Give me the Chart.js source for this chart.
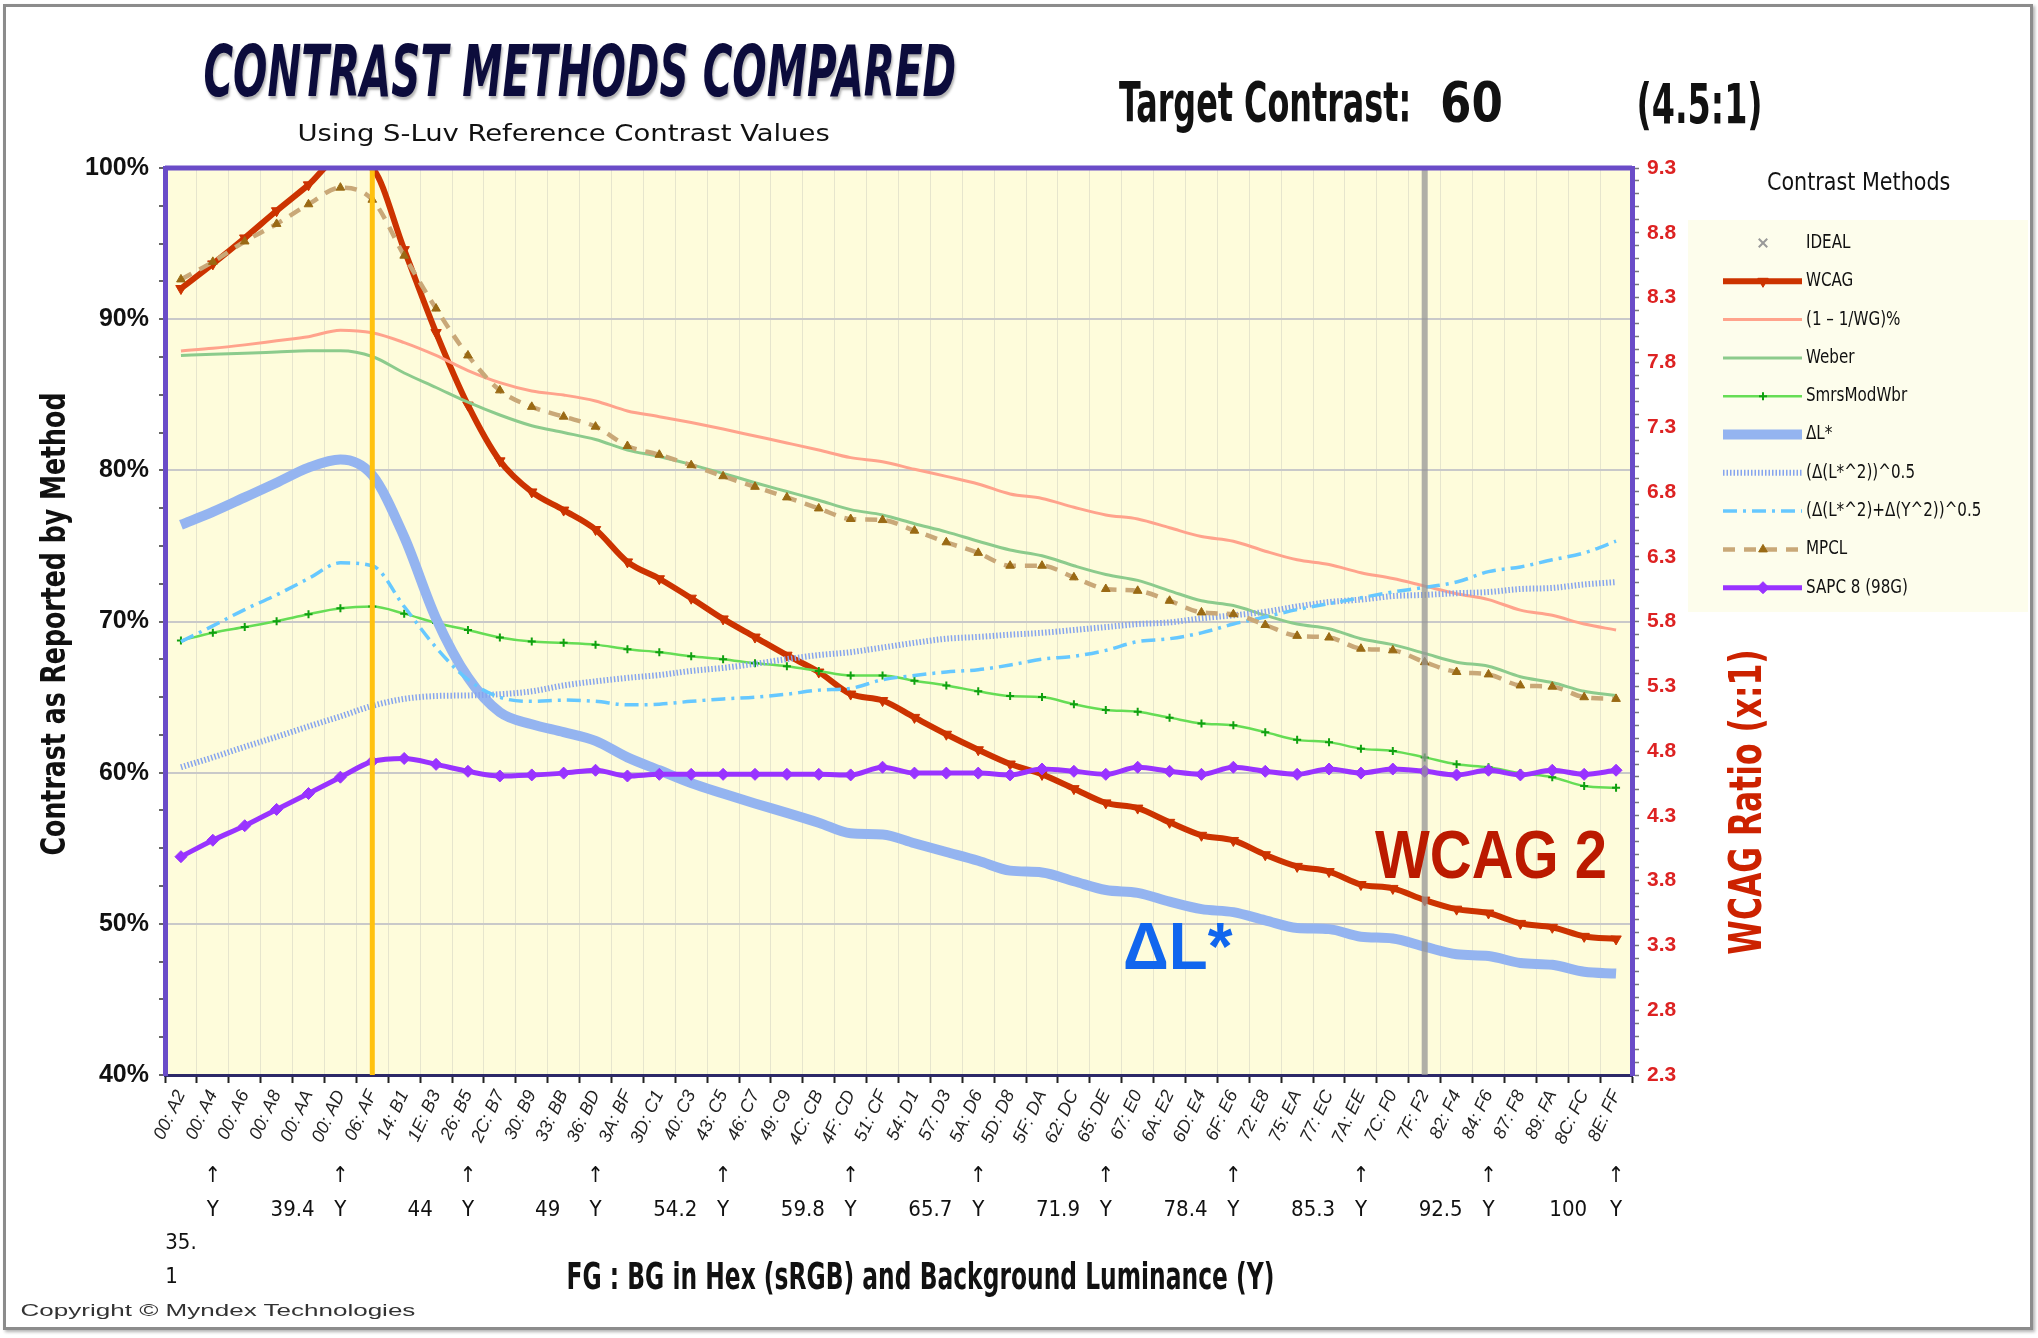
<!DOCTYPE html>
<html lang="en">
<head>
<meta charset="UTF-8" />
<title>Contrast Methods Compared</title>
<script src="https://cdn.jsdelivr.net/npm/chart.js@4"></script>
<style>
  body { margin: 0; background: #fff; }
  #wrap { position: relative; width: 2038px; height: 1338px; overflow: hidden; }
  #frame { position: absolute; left: 3px; top: 4px; width: 2024px; height: 1320px; border: 3px solid #8c8c8c; box-shadow: 2px 2px 3px rgba(0,0,0,.3); }
  canvas { position: absolute; left: 0; top: 0; }
  .t { position: absolute; white-space: nowrap; line-height: 1; transform-origin: 50% 50%; font-family: 'Liberation Sans', Arial, sans-serif; color: #111; }
  .narrow { font-family: 'Liberation Sans Narrow', 'DejaVu Sans Condensed', 'Liberation Sans', sans-serif; font-stretch: condensed; }
</style>
</head>
<body>
<div id="wrap">
  <canvas id="chart" width="2038" height="1338"></canvas>
  <div id="frame"></div>

  <div class="t narrow" data-x="580" data-y="71" data-w="753" style="font-size:72px;font-weight:bold;font-style:italic;color:#0c0c3c;text-shadow:2px 3px 3px rgba(0,0,0,.3)">CONTRAST METHODS COMPARED</div>
  <div class="t narrow" data-x="563" data-y="133" data-w="532" style="font-size:23px;">Using S-Luv Reference Contrast Values</div>
  <div class="t narrow" data-x="1265" data-y="102" data-w="292" style="font-size:55px;font-weight:bold;">Target Contrast:</div>
  <div class="t narrow" data-x="1471" data-y="102" data-w="63" style="font-size:55px;font-weight:bold;">60</div>
  <div class="t narrow" data-x="1699" data-y="104" data-w="126" style="font-size:55px;font-weight:bold;">(4.5:1)</div>

  <div class="t narrow" data-x="53" data-y="624" data-w="463" data-r="-90" style="font-size:34px;font-weight:bold;">Contrast as Reported by Method</div>
  <div class="t narrow" data-x="1745" data-y="802" data-w="305" data-r="-90" style="font-size:44px;font-weight:bold;color:#cc2200;">WCAG Ratio (x:1)</div>
  <div class="t narrow" data-x="920" data-y="1276" data-w="708" style="font-size:38px;font-weight:bold;">FG : BG in Hex (sRGB) and Background Luminance (Y)</div>
  <div class="t" data-x="218" data-y="1310" data-w="395" style="font-size:17px;color:#333;">Copyright © Myndex Technologies</div>
  <div class="t narrow" data-x="1858" data-y="181" data-w="183" style="font-size:25px;">Contrast Methods</div>

  <div class="t" data-x="1491" data-y="854" data-w="232" style="font-size:69px;font-weight:bold;color:#bb1a00;">WCAG 2</div>
  <div class="t" data-x="1177" data-y="946" data-w="109" style="font-size:66px;font-weight:bold;color:#1166ee;">ΔL*</div>
</div>

<script>
  // FG:BG colour pairs on the category axis
  const hexLabels = ['00: A2','00: A4','00: A6','00: A8','00: AA','00: AD','06: AF','14: B1','1E: B3','26: B5',
    '2C: B7','30: B9','33: BB','36: BD','3A: BF','3D: C1','40: C3','43: C5','46: C7','49: C9',
    '4C: CB','4F: CD','51: CF','54: D1','57: D3','5A: D6','5D: D8','5F: DA','62: DC','65: DE',
    '67: E0','6A: E2','6D: E4','6F: E6','72: E8','75: EA','77: EC','7A: EE','7C: F0','7F: F2',
    '82: F4','84: F6','87: F8','89: FA','8C: FC','8E: FF'];

  // background luminance row under the hex labels
  const lumText = ['35.1','39.4','44','49','54.2','59.8','65.7','71.9','78.4','85.3','92.5','100'];
  const lumPos = [0, 3.5, 7.5, 11.5, 15.5, 19.5, 23.5, 27.5, 31.5, 35.5, 39.5, 43.5];
  const arrowPos = [1, 5, 9, 13, 17, 21, 25, 29, 33, 37, 41, 45];

  const rightTickLabels = ['2.3','2.8','3.3','3.8','4.3','4.8','5.3','5.8','6.3','6.8','7.3','7.8','8.3','8.8','9.3'];

  // WCAG ratio (right axis)
  const wcag = [8.37, 8.56, 8.76, 8.97, 9.17, 9.38, 9.30, 8.67, 8.03, 7.47, 7.04, 6.80,
    6.66, 6.51, 6.26, 6.13, 5.98, 5.82, 5.68, 5.54, 5.41, 5.24, 5.19,
    5.06, 4.93, 4.81, 4.70, 4.62, 4.51, 4.40, 4.36, 4.25, 4.15, 4.11, 4.00,
    3.91, 3.87, 3.77, 3.74, 3.65, 3.58, 3.55, 3.47, 3.44, 3.37, 3.35];

  // percent series (left axis)
  const oneMinusWG = [87.9, 88.07, 88.3, 88.57, 88.84, 89.27, 89.1, 88.45, 87.6, 86.6, 85.8, 85.25,
    84.98, 84.59, 83.93, 83.55, 83.16, 82.73, 82.27, 81.81, 81.34, 80.84, 80.57,
    80.07, 79.6, 79.1, 78.44, 78.14, 77.56, 77.05, 76.78, 76.2, 75.62, 75.31, 74.65,
    74.08, 73.77, 73.23, 72.84, 72.34, 71.84, 71.45, 70.75, 70.41, 69.83, 69.44];
  const weber = [87.6, 87.68, 87.75, 87.83, 87.91, 87.91, 87.53, 86.44, 85.48, 84.51, 83.66, 82.95,
    82.5, 82.04, 81.34, 80.92, 80.38, 79.8, 79.18, 78.6, 78.02, 77.4, 77.05,
    76.47, 75.93, 75.31, 74.73, 74.35, 73.69, 73.11, 72.72, 72.03, 71.37, 71.06, 70.41,
    69.83, 69.52, 68.86, 68.47, 67.89, 67.31, 67.04, 66.35, 65.96, 65.38, 65.11];
  const smrsModWbr = [68.74, 69.25, 69.63, 70.02, 70.48, 70.87, 70.99, 70.52, 69.9, 69.44, 68.94, 68.67,
    68.59, 68.47, 68.16, 67.97, 67.7, 67.51, 67.24, 67.04, 66.73, 66.43, 66.43,
    66.08, 65.77, 65.38, 65.07, 65.0, 64.53, 64.15, 64.03, 63.64, 63.26, 63.14, 62.68,
    62.17, 62.02, 61.59, 61.44, 61.01, 60.55, 60.36, 59.97, 59.7, 59.12, 59.0];
  const deltaL = [76.4, 77.25, 78.21, 79.18, 80.18, 80.72, 79.68, 75.6, 70.2, 66.3, 64.0, 63.2,
    62.68, 62.1, 61.01, 60.16, 59.31, 58.62, 57.96, 57.34, 56.69, 55.99, 55.91,
    55.33, 54.75, 54.17, 53.52, 53.4, 52.82, 52.24, 52.05, 51.47, 50.97, 50.77, 50.23,
    49.73, 49.65, 49.15, 49.03, 48.49, 47.99, 47.87, 47.41, 47.29, 46.83, 46.71];
  const lStarSq = [60.36, 61.01, 61.71, 62.37, 63.06, 63.72, 64.42, 64.88, 65.07, 65.11, 65.19, 65.38,
    65.77, 66.04, 66.27, 66.46, 66.73, 66.93, 67.2, 67.51, 67.78, 67.97, 68.28,
    68.59, 68.86, 68.98, 69.13, 69.25, 69.44, 69.63, 69.83, 69.94, 70.21, 70.41, 70.64,
    70.99, 71.29, 71.45, 71.68, 71.76, 71.87, 71.95, 72.15, 72.22, 72.45, 72.61];
  const lStarYSq = [68.67, 69.71, 70.79, 71.76, 72.84, 73.88, 73.69, 70.99, 68.28, 66.15, 64.99, 64.72,
    64.8, 64.72, 64.49, 64.53, 64.72, 64.88, 65.0, 65.19, 65.46, 65.58, 66.15,
    66.43, 66.66, 66.81, 67.12, 67.51, 67.7, 68.09, 68.67, 68.86, 69.25, 69.83, 70.3,
    70.79, 71.18, 71.57, 71.95, 72.26, 72.61, 73.3, 73.61, 74.08, 74.54, 75.31];
  const mpcl = [92.63, 93.79, 95.14, 96.3, 97.6, 98.7, 97.9, 94.2, 90.7, 87.6, 85.29, 84.2,
    83.55, 82.89, 81.61, 81.03, 80.34, 79.61, 78.91, 78.21, 77.48, 76.78, 76.71,
    76.01, 75.24, 74.54, 73.69, 73.69, 72.92, 72.15, 72.03, 71.37, 70.6, 70.48, 69.77,
    69.05, 68.94, 68.2, 68.09, 67.31, 66.66, 66.5, 65.77, 65.69, 64.99, 64.88];
  const sapc = [54.44, 55.53, 56.49, 57.57, 58.62, 59.7, 60.74, 60.94, 60.55, 60.09, 59.78, 59.85,
    59.97, 60.16, 59.78, 59.89, 59.89, 59.89, 59.89, 59.89, 59.89, 59.85, 60.36,
    59.97, 59.97, 59.97, 59.85, 60.24, 60.09, 59.89, 60.36, 60.09, 59.89, 60.36, 60.09,
    59.89, 60.24, 59.97, 60.24, 60.09, 59.85, 60.16, 59.85, 60.16, 59.89, 60.16];

  const targetPair = '06: AF';
  const ratioPair = '7F: F2';

  const NARROW = "'Liberation Sans Narrow', 'DejaVu Sans Condensed', 'Liberation Sans', sans-serif";

  // luminance row: arrows with "Y", values between them
  const lumTicks = [];
  arrowPos.forEach(p => lumTicks.push({ v: p, lines: ['↑', 'Y'] }));
  lumPos.forEach((p, i) => {
    const s = lumText[i];
    lumTicks.push({ v: p, lines: i === 0 ? ['', '', s.slice(0, 3), s.slice(3) + '   '] : ['', s] });
  });
  lumTicks.sort((a, b) => a.v - b.v);

  const base = { yAxisID: 'y', pointRadius: 0, fill: false, cubicInterpolationMode: 'monotone' };

  const datasets = [
    { ...base, label: 'IDEAL', data: [], showLine: false, pointStyle: 'crossRot', pointRadius: 6,
      pointBorderColor: '#999', pointBackgroundColor: '#999', pointBorderWidth: 2, borderColor: '#999' },
    { ...base, label: 'WCAG', data: wcag, yAxisID: 'yR', borderColor: '#cc3300', borderWidth: 6,
      pointStyle: 'triangle', pointRotation: 180, pointRadius: 6, pointBackgroundColor: '#cc3300',
      pointBorderColor: '#cc3300', pointBorderWidth: 1 },
    { ...base, label: '(1 – 1/WG)%', data: oneMinusWG, borderColor: '#ffa38c', borderWidth: 3 },
    { ...base, label: 'Weber', data: weber, borderColor: '#8ccb8c', borderWidth: 3 },
    { ...base, label: 'SmrsModWbr', data: smrsModWbr, borderColor: '#66dd55', borderWidth: 2.5,
      pointStyle: 'cross', pointRadius: 4, pointBorderColor: '#10a010', pointBackgroundColor: '#10a010', pointBorderWidth: 2 },
    { ...base, label: 'ΔL*', data: deltaL, borderColor: '#94b4f0', borderWidth: 10 },
    { ...base, label: '(Δ(L*^2))^0.5', data: lStarSq, borderColor: '#86a4ee', borderWidth: 6, borderDash: [1.5, 2] },
    { ...base, label: '(Δ(L*^2)+Δ(Y^2))^0.5', data: lStarYSq, borderColor: '#66c8ff', borderWidth: 3.5, borderDash: [14, 6, 3, 6] },
    { ...base, label: 'MPCL', data: mpcl, borderColor: '#c9a878', borderWidth: 4.5, borderDash: [12, 9],
      pointStyle: 'triangle', pointRadius: 5, pointBackgroundColor: '#9a6a14', pointBorderColor: '#9a6a14', pointBorderWidth: 1 },
    { ...base, label: 'SAPC 8 (98G)', data: sapc, borderColor: '#9933ff', borderWidth: 5,
      pointStyle: 'rectRot', pointRadius: 6, pointBackgroundColor: '#9933ff', pointBorderColor: '#9933ff', pointBorderWidth: 1 }
  ];
  // later series sit on top, as in the original
  datasets.forEach((d, i) => { d.order = datasets.length - i; });

  const decor = {
    id: 'decor',
    beforeDraw(chart) {
      const { ctx, chartArea: a } = chart;
      ctx.save();
      ctx.fillStyle = '#fefcdb';
      ctx.fillRect(a.left, a.top, a.right - a.left, a.bottom - a.top);
      ctx.fillStyle = '#fdfdec';
      ctx.fillRect(1688, 220, 340, 392);
      ctx.restore();
    },
    afterDatasetsDraw(chart) {
      const { ctx, chartArea: a, scales } = chart;
      ctx.save();
      const gx = scales.x.getPixelForValue(hexLabels.indexOf(targetPair));
      ctx.strokeStyle = '#ffc20e'; ctx.lineWidth = 5;
      ctx.beginPath(); ctx.moveTo(gx, a.top); ctx.lineTo(gx, a.bottom); ctx.stroke();
      const rx = scales.x.getPixelForValue(hexLabels.indexOf(ratioPair));
      ctx.strokeStyle = 'rgba(150,150,150,0.75)'; ctx.lineWidth = 6;
      ctx.beginPath(); ctx.moveTo(rx, a.top); ctx.lineTo(rx, a.bottom); ctx.stroke();
      ctx.strokeStyle = '#6a4cc8'; ctx.lineWidth = 5;
      ctx.beginPath(); ctx.moveTo(a.left, a.top); ctx.lineTo(a.right, a.top); ctx.stroke();
      ctx.restore();
    },
    afterDraw(chart) {
      const ctx = chart.ctx;
      ctx.save();
      ctx.font = '19px ' + NARROW;
      const sx = 102 / ctx.measureText('SAPC 8 (98G)').width;
      chart.data.datasets.forEach((ds, i) => {
        const y = 243 + i * 38.3;
        if (ds.showLine !== false) {
          ctx.beginPath();
          ctx.setLineDash(ds.borderDash || []);
          ctx.lineWidth = ds.borderWidth;
          ctx.strokeStyle = ds.borderColor;
          ctx.moveTo(1723, y); ctx.lineTo(1802, y); ctx.stroke();
        }
        ctx.setLineDash([]);
        if (ds.pointRadius > 0 && Chart.helpers && Chart.helpers.drawPoint) {
          ctx.fillStyle = ds.pointBackgroundColor;
          ctx.strokeStyle = ds.pointBorderColor;
          ctx.lineWidth = ds.pointBorderWidth;
          Chart.helpers.drawPoint(ctx, { pointStyle: ds.pointStyle, rotation: ds.pointRotation || 0,
            radius: ds.pointRadius, borderWidth: ds.pointBorderWidth }, 1763, y);
        }
        ctx.fillStyle = '#111';
        ctx.textBaseline = 'middle';
        ctx.save(); ctx.translate(1806, y); ctx.scale(sx, 1); ctx.fillText(ds.label, 0, 0); ctx.restore();
      });
      ctx.restore();
    }
  };

  Chart.defaults.font.family = "'Liberation Sans', Arial, sans-serif";

  new Chart(document.getElementById('chart'), {
    type: 'line',
    data: { labels: hexLabels, datasets },
    options: {
      responsive: false,
      animation: false,
      events: [],
      layout: { padding: { top: 168, left: 0, right: 326, bottom: 48 } },
      plugins: { legend: { display: false }, tooltip: { enabled: false } },
      scales: {
        x: {
          type: 'category', offset: true, weight: 0,
          grid: { offset: true, color: 'rgba(170,170,170,0.28)', borderDash: [1, 3], lineWidth: 1,
            tickColor: '#222', tickLength: 8, tickWidth: 2 },
          border: { color: '#2c2868', width: 3 },
          ticks: { autoSkip: false, minRotation: 65, maxRotation: 65, padding: 4, color: '#222',
            font: { style: 'italic', size: 18 } },
          afterFit: s => { s.height = 85; }
        },
        x2: {
          type: 'linear', position: 'bottom', weight: 1, min: -0.5, max: 45.5,
          grid: { display: false, drawTicks: false }, border: { display: false },
          afterBuildTicks: s => { s.ticks = lumTicks.map(t => ({ value: t.v })); },
          ticks: { autoSkip: false, maxRotation: 0, padding: 0, color: '#111',
            font: { family: NARROW, size: 22, lineHeight: 1.52 },
            callback: (v, i) => lumTicks[i].lines },
          afterFit: s => { s.height = 130; }
        },
        y: {
          position: 'left', min: 40, max: 100,
          ticks: { stepSize: 2.5, autoSkip: false, padding: 10, color: '#111',
            font: { weight: 'bold', size: 25 },
            callback: v => (v % 10 === 0 ? v + '%' : '') },
          grid: { color: c => (c.tick && c.tick.value % 10 === 0 ? '#c9c9c9' : 'rgba(0,0,0,0)'),
            lineWidth: 2, tickColor: '#333', tickLength: 6, tickWidth: 1.5 },
          border: { color: '#6a4cc8', width: 5 },
          afterFit: s => { s.width = 165; }
        },
        yR: {
          position: 'right', min: 2.3, max: 9.3,
          afterBuildTicks: s => {
            const t = [];
            for (let k = 0; k <= 70; k++) t.push({ value: Math.round((2.3 + k * 0.1) * 10) / 10 });
            s.ticks = t;
          },
          ticks: { autoSkip: false, padding: 8, color: '#dd2222', font: { weight: 'bold', size: 21 },
            callback: v => (rightTickLabels.includes(v.toFixed(1)) ? v.toFixed(1) : '') },
          grid: { drawOnChartArea: false, tickColor: '#777', tickLength: 7, tickWidth: 1.5 },
          border: { color: '#6a4cc8', width: 5 },
          afterFit: s => { s.width = 80; }
        }
      }
    },
    plugins: [decor]
  });

  // place and fit the text blocks
  document.querySelectorAll('.t').forEach(el => {
    const w = el.offsetWidth, h = el.offsetHeight;
    const sx = +el.dataset.w / w;
    el.style.left = (+el.dataset.x - w / 2) + 'px';
    el.style.top = (+el.dataset.y - h / 2) + 'px';
    el.style.transform = `rotate(${el.dataset.r || 0}deg) scaleX(${sx})`;
  });
</script>
</body>
</html>
